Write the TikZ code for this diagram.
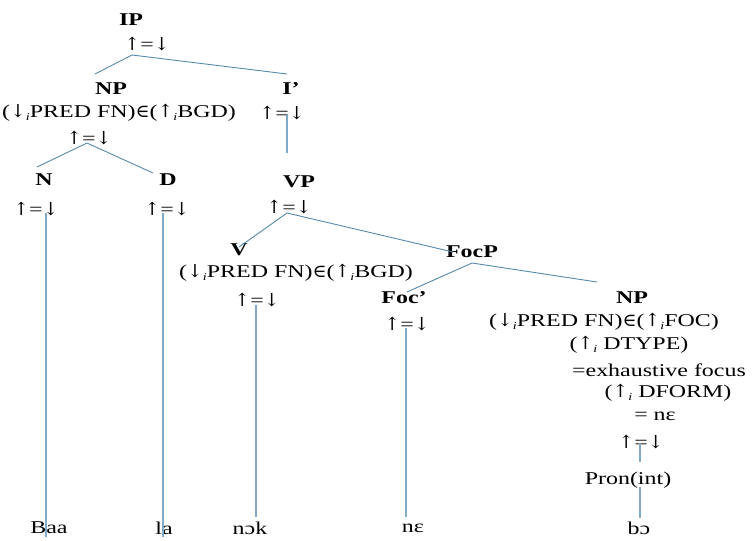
\documentclass[tikz,border=0pt]{standalone}
\usepackage{fontspec}
\setmainfont{Liberation Serif}[FakeStretch=1.33]
\newfontfamily\symf{DejaVu Serif}[FakeStretch=1.05]
\usetikzlibrary{calc}
\definecolor{branchblue}{RGB}{84,138,172}
\definecolor{stemblue}{RGB}{128,170,200}
% arrows and set membership come from DejaVu Serif
\newcommand\uparr{{\symf ↑}}
\newcommand\dnarr{{\symf ↓}}
\newcommand\elem{{\symf ∈}}
\newcommand\updown{\uparr=\dnarr}
% lowered italic index on the f-structure arrows
\newcommand\isub{\raisebox{-0.3ex}{\fontsize{10.5}{11}\selectfont\itshape i}}
\begin{document}
\begin{tikzpicture}[x=1pt,y=-1pt,
  every node/.style={inner sep=0pt,font=\fontsize{18}{21}\selectfont},
  cat/.style={font=\fontsize{18}{21}\selectfont\bfseries},
  branch/.style={draw=branchblue,line width=0.9pt},
  stem/.style={draw=stemblue,line width=1.4pt}]
\useasboundingbox (0,0) rectangle (753,541);

% IP and its daughters
\node[cat] (ip) at (131,20) {IP};
\node (ipf) at (147,44) {\updown};
\node[cat] (np1) at (111,89) {NP};
\node (np1a) at (119,113) {(\dnarr\isub PRED FN)\elem(\uparr\isub BGD)};
\node (np1f) at (89,138) {\updown};
\node[cat] (ibar) at (291,89) {I’};
\node (ibarf) at (282,113) {\updown};

% N and D under the subject NP
\node[cat] (n) at (44,180) {N};
\node (nf) at (36,209) {\updown};
\node[cat] (d) at (168,180) {D};
\node (df) at (167,209) {\updown};

% VP
\node[cat] (vp) at (299,182) {VP};
\node (vpf) at (289,207) {\updown};
\node[cat] (v) at (239,250) {V};
\node (va) at (296,273) {(\dnarr\isub PRED FN)\elem(\uparr\isub BGD)};
\node (vf) at (257,300) {\updown};

% FocP
\node[cat] (focp) at (472,252) {FocP};
\node[cat] (foc) at (404,298) {Foc’};
\node (focf) at (407,324) {\updown};
\node[cat] (np2) at (632,298) {NP};
\node (np2a) at (604,322) {(\dnarr\isub PRED FN)\elem(\uparr\isub FOC)};
\node (np2b) at (629,345) {(\uparr\isub\ DTYPE)};
\node (np2c) at (659,370) {=exhaustive focus};
\node (np2d) at (668,393) {(\uparr\isub\ DFORM)};
\node (np2e) at (655,416) {= nε};
\node (np2f) at (641,442) {\updown};
\node (pron) at (628,480) {Pron(int)};

% terminal words
\node (baa) at (49,528) {Baa};
\node (la) at (164,528) {la};
\node (nok) at (250,528) {nɔk};
\node (ne) at (413,528) {nε};
\node (bo) at (639,528) {bɔ};

% branches
\draw[branch] ($(ipf)+(-15,11)$) -- ($(np1)+(-16,-15)$);
\draw[branch] ($(ipf)+(-15,11)$) -- ($(ibar)+(-4,-15)$);
\draw[branch] ($(np1f)+(-2,5)$) -- ($(n)+(-7,-13)$);
\draw[branch] ($(np1f)+(-2,5)$) -- ($(d)+(-15,-7)$);
\draw[branch] ($(vpf)+(-2,6)$) -- ($(v)+(0,-3)$);
\draw[branch] ($(vpf)+(-2,6)$) -- ($(focp)+(-19,0)$);
\draw[branch] ($(focp)+(0,11)$) -- ($(foc)+(3,-6)$);
\draw[branch] ($(focp)+(0,11)$) -- ($(np2)+(-35,-16)$);

% unary stems
\draw[stem] ($(ibarf)+(5,2)$) -- ($(vp)+(-12,-29)$);
\draw[stem] ($(nf)+(10,4)$) -- ($(baa)+(-3,9)$);
\draw[stem] ($(df)+(-4,4)$) -- ($(la)+(-1,9)$);
\draw[stem] ($(vf)+(-1,5)$) -- ($(nok)+(6,-11)$);
\draw[stem] ($(focf)+(-1,4)$) -- ($(ne)+(-7,-11)$);
\draw[stem] ($(np2f)+(-1,1)$) -- ($(pron)+(12,-18)$);
\draw[stem] ($(pron)+(12,7)$) -- ($(bo)+(1,-10)$);
\end{tikzpicture}
\end{document}
